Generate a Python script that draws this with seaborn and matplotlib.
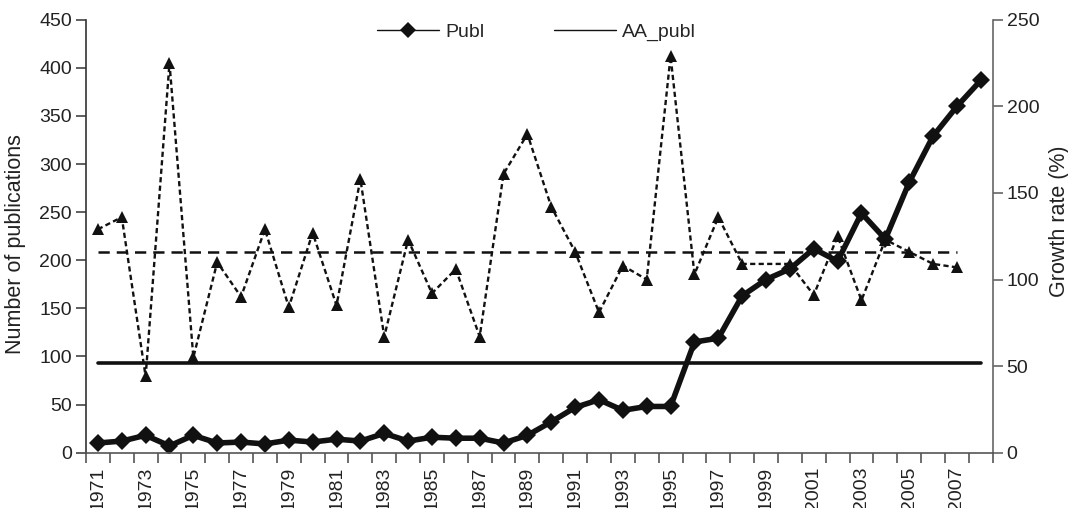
import numpy as np
import pandas as pd
import seaborn as sns
import matplotlib.pyplot as plt
from matplotlib.lines import Line2D
from matplotlib.ticker import FixedLocator, NullFormatter, FixedFormatter

# ---- data ----
years = list(range(1971, 2009))
publ = [10, 12, 18, 7, 18, 10, 11, 9, 13, 11, 14, 12, 20, 12, 16, 15, 15, 10, 18, 32,
        47, 55, 44, 48, 48, 115, 119, 163, 180, 191, 212, 199, 249, 222, 281, 329, 360, 387]
growth_years = list(range(1971, 2008))
growth = [129, 136, 44, 225, 55, 110, 90, 129, 84, 127, 85, 158, 67, 123, 92, 106, 67, 161, 184, 142,
          116, 81, 108, 100, 229, 103, 136, 109, np.nan, 109, 91, 125, 88, 123, 116, 109, 107]
AA_PUBL = 93.6     # average publications (left axis)
AA_GROWTH = 116.1  # average growth rate (right axis)

df = pd.DataFrame({'year': years, 'publ': publ})
df['x'] = np.arange(len(df))
df['aa_publ'] = AA_PUBL
dg = pd.DataFrame({'year': growth_years, 'growth': growth})
dg['x'] = np.arange(len(dg))
dg['aa_growth'] = AA_GROWTH
dg_ok = dg.dropna()

sns.set_style('white')
plt.rcParams['font.family'] = ['Liberation Sans', 'DejaVu Sans']
plt.rcParams['font.size'] = 14

fig = plt.figure(figsize=(10.68, 5.08), dpi=100)
ax = fig.add_axes([0.0805, 0.109, 0.849, 0.852])
ax2 = ax.twinx()
INK = '#111111'

# growth rate on the right axis
sns.lineplot(data=dg_ok, x='x', y='growth', ax=ax2, color=INK, lw=1.7,
             linestyle=(0, (2.2, 1.4)), marker='^', markersize=8.5, markeredgewidth=0)
sns.lineplot(data=dg, x='x', y='aa_growth', ax=ax2, color=INK, lw=1.8,
             linestyle=(0, (4.5, 2.8)))

# publications on the left axis (drawn on top)
sns.lineplot(data=df, x='x', y='aa_publ', ax=ax, color=INK, lw=2.6)
sns.lineplot(data=df, x='x', y='publ', ax=ax, color=INK, lw=4.0,
             marker='D', markersize=9, markeredgewidth=0)
ax.set_zorder(ax2.get_zorder() + 1)
ax.patch.set_visible(False)

n = len(years)
ax.set_xlim(-0.5, n - 0.5)
ax.set_ylim(0, 450)
ax2.set_ylim(0, 250)
ax.set_yticks(np.arange(0, 451, 50))
ax2.set_yticks(np.arange(0, 251, 50))

# category axis: ticks at boundaries, labels every other year at centres
ax.xaxis.set_major_locator(FixedLocator(np.arange(-0.5, n, 1.0)))
ax.xaxis.set_major_formatter(NullFormatter())
lab_pos = [i for i in range(n) if years[i] % 2 == 1 and years[i] <= 2007]
ax.xaxis.set_minor_locator(FixedLocator(lab_pos))
ax.xaxis.set_minor_formatter(FixedFormatter([str(years[i]) for i in lab_pos]))
ax.tick_params(axis='x', which='minor', length=0, rotation=90, labelsize=14, pad=10, colors='#222222')
ax.tick_params(axis='x', which='major', length=7, width=1.2, color='#555555', direction='out')
ax.tick_params(axis='y', length=7, width=1.2, color='#444444', labelsize=14, labelcolor='#222222', pad=3)
ax2.tick_params(axis='y', length=7, width=1.2, color='#666666', labelsize=14, labelcolor='#222222', pad=3)
ax.xaxis.set_tick_params(bottom=True, which='major')

for a in (ax, ax2):
    a.spines['top'].set_visible(False)
ax.spines['right'].set_visible(False)
ax2.spines['left'].set_visible(False)
ax2.spines['bottom'].set_visible(False)
ax.spines['left'].set_color('#333333')
ax.spines['bottom'].set_color('#555555')
ax2.spines['right'].set_color('#666666')
for s in (ax.spines['left'], ax.spines['bottom'], ax2.spines['right']):
    s.set_linewidth(1.2)

ax.set_xlabel('')
ax.set_ylabel('Number of publications', fontsize=15.5, color='#222222')
ax2.set_ylabel('Growth rate (%)', fontsize=15.5, color='#222222')
ax.yaxis.set_label_coords(-0.066, 0.483)
ax2.yaxis.set_label_coords(1.062, 0.535)

handles = [Line2D([], [], color=INK, lw=1.0, marker='D', markersize=8, markeredgewidth=0),
           Line2D([], [], color=INK, lw=1.0)]
ax.legend(handles, ['Publ', 'AA_publ'], loc='center', bbox_to_anchor=(0.497, 0.972), ncol=2,
          frameon=False, fontsize=14, handlelength=3.2, handletextpad=0.3, columnspacing=3.6)

fig.savefig('out.png', dpi=100)
